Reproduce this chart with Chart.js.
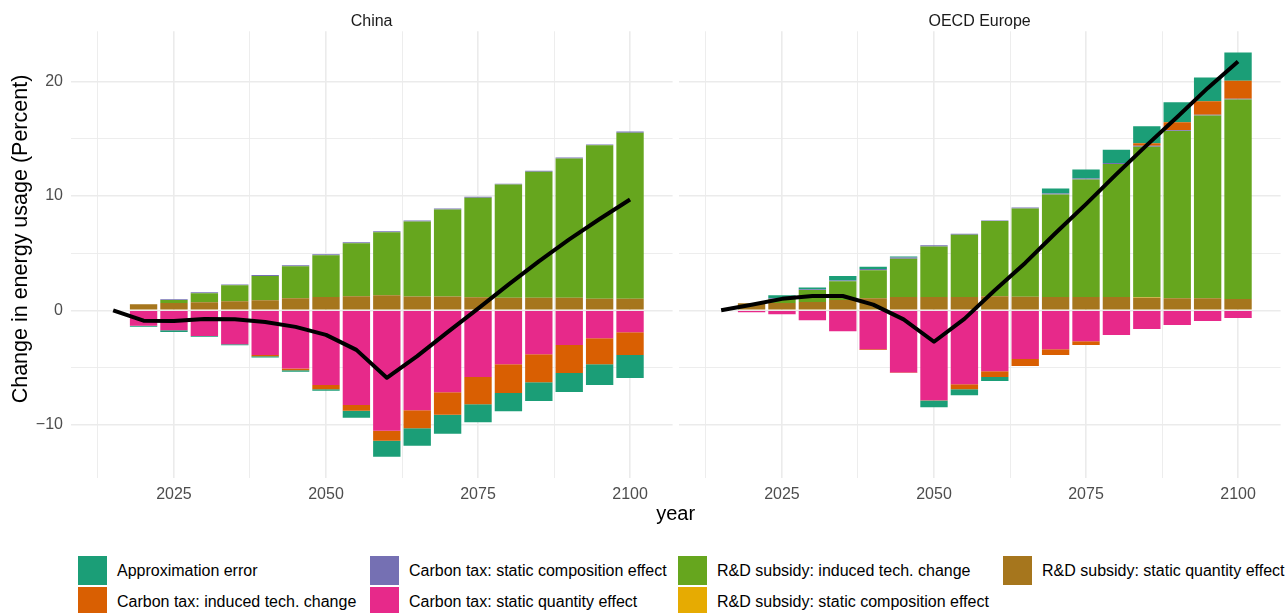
<!DOCTYPE html>
<html>
<head>
<meta charset="utf-8">
<script src="https://cdn.jsdelivr.net/npm/chart.js@4.4.1/dist/chart.umd.min.js"></script>
<style>
  html, body { margin: 0; padding: 0; background: #ffffff; }
  #wrap { position: relative; width: 1288px; height: 613px; overflow: hidden; background: #fff;
          font-family: "Liberation Sans", Arial, Helvetica, sans-serif; }
  #wrap canvas { position: absolute; top: 0; }
  .strip { position: absolute; top: 10.5px; font-size: 16px; line-height: 20px; color: #1a1a1a;
           transform: translateX(-50%); white-space: nowrap; }
  .xtitle { position: absolute; top: 500.5px; font-size: 20px; line-height: 24px; color: #000;
            transform: translateX(-50%); white-space: nowrap; }
  .ytitle { position: absolute; width: 440px; text-align: center; font-size: 21.5px; line-height: 26px;
            color: #000; white-space: nowrap; transform: translate(-50%, -50%) rotate(-90deg); }
  .leg { position: absolute; display: flex; align-items: center; height: 29px; white-space: nowrap;
         font-size: 16px; color: #000; }
  .leg .key { width: 29px; height: 29px; margin-right: 10px; flex: none; }
</style>
</head>
<body>
<div id="wrap">
  <canvas id="cChina" width="676" height="530" style="left:0px;width:676px;height:530px;"></canvas>
  <canvas id="cOecd" width="612" height="530" style="left:676px;width:612px;height:530px;"></canvas>
  <div class="strip" id="s0" style="left:371.6px;"></div>
  <div class="strip" id="s1" style="left:979.6px;"></div>
  <div class="xtitle" id="xt" style="left:675.6px;"></div>
  <div class="ytitle" id="yt" style="left:19.8px;top:238.5px;"></div>
  <div id="legend"></div>
</div>
<script>
// ---------------- data ----------------
const years = [2015, 2020, 2025, 2030, 2035, 2040, 2045, 2050, 2055, 2060, 2065, 2070, 2075, 2080, 2085, 2090, 2095, 2100];
const xGridTicks = [2012.5, 2025, 2037.5, 2050, 2062.5, 2075, 2087.5, 2100];
const xTickLabels = [2025, 2050, 2075, 2100];
const yGridTicks = [-10, -5, 0, 5, 10, 15, 20];
const yTickLabels = [-10, 0, 10, 20];
const facetNames = ['China', 'OECD Europe'];
const xAxisTitle = 'year';
const yAxisTitle = 'Change in energy usage (Percent)';

const seriesNames = [
  'Approximation error',
  'Carbon tax: induced tech. change',
  'Carbon tax: static composition effect',
  'Carbon tax: static quantity effect',
  'R&D subsidy: induced tech. change',
  'R&D subsidy: static composition effect',
  'R&D subsidy: static quantity effect'
];
const seriesColors = ['#1B9E77', '#D95F02', '#7570B3', '#E7298A', '#66A61E', '#E6AB02', '#A6761D'];

// China
const chinaApproxError   = [0, -0.08, -0.15, -0.08, -0.08, -0.10, -0.14, -0.14, -0.61, -1.40, -1.55, -1.66, -1.57, -1.60, -1.63, -1.66, -1.80, -2.01];
const chinaCtInduced     = [0, 0, 0, 0, 0, -0.12, -0.15, -0.38, -0.52, -0.87, -1.57, -1.98, -2.38, -2.50, -2.45, -2.45, -2.27, -1.98];
const chinaCtComposition = [0, 0, 0.08, 0.08, 0.08, 0.08, 0.08, 0.08, 0.08, 0.08, 0.08, 0.08, 0.08, 0.08, 0.08, 0.10, 0.08, 0.10];
const chinaCtQuantity    = [0, -1.35, -1.75, -2.24, -2.97, -3.90, -5.09, -6.52, -8.27, -10.54, -8.73, -7.16, -5.83, -4.72, -3.84, -3.03, -2.45, -1.92];
const chinaRdInduced     = [0, 0, 0.25, 0.79, 1.38, 2.13, 2.80, 3.65, 4.64, 5.50, 6.56, 7.61, 8.71, 9.89, 11.02, 12.16, 13.40, 14.50];
const chinaRdComposition = [0, 0, 0, 0, 0, 0, 0, 0, 0, 0, 0, 0, 0, 0, 0, 0, 0, 0];
const chinaRdQuantity    = [0.06, 0.52, 0.64, 0.70, 0.80, 0.87, 1.05, 1.16, 1.22, 1.32, 1.20, 1.20, 1.14, 1.10, 1.10, 1.10, 1.02, 1.02];
const chinaNet           = [0, -0.91, -0.94, -0.76, -0.79, -1.02, -1.45, -2.15, -3.46, -5.90, -4.01, -1.91, 0.15, 2.25, 4.28, 6.20, 7.98, 9.69];

// OECD Europe
const oecdApproxError    = [0, 0, 0.25, 0.15, 0.38, 0.20, 0.09, -0.58, -0.52, -0.35, 0, 0.44, 0.79, 1.16, 1.48, 1.75, 2.07, 2.47];
const oecdCtInduced      = [0, 0, 0, 0, 0, -0.05, -0.05, -0.03, -0.44, -0.49, -0.61, -0.49, -0.32, 0, 0.23, 0.70, 1.19, 1.57];
const oecdCtComposition  = [0, 0, 0.07, 0.08, 0.08, 0.10, 0.10, 0.10, 0.10, 0.06, 0.08, 0.08, 0.08, 0.08, 0.08, 0.06, 0.06, 0.06];
const oecdCtQuantity     = [0, -0.17, -0.35, -0.87, -1.83, -3.41, -5.44, -7.86, -6.46, -5.33, -4.25, -3.41, -2.71, -2.15, -1.63, -1.28, -0.93, -0.67];
const oecdRdInduced      = [0, 0, 0.35, 1.05, 1.63, 2.45, 3.35, 4.42, 5.44, 6.58, 7.73, 8.97, 10.28, 11.64, 13.16, 14.62, 15.98, 17.44];
const oecdRdComposition  = [0, 0, 0, 0, 0, 0, 0, 0, 0, 0, 0, 0, 0, 0, 0.04, 0, 0, 0];
const oecdRdQuantity     = [0.06, 0.61, 0.64, 0.72, 0.90, 1.05, 1.16, 1.16, 1.16, 1.22, 1.18, 1.16, 1.16, 1.16, 1.10, 1.05, 1.05, 0.99];
const oecdNet            = [0, 0.48, 1.00, 1.25, 1.25, 0.50, -0.79, -2.75, -0.75, 1.75, 4.14, 6.76, 9.28, 11.91, 14.44, 16.89, 19.42, 21.75];

// ---------------- chart ----------------
const FONT = '"Liberation Sans", Arial, Helvetica, sans-serif';
const fmtNum = v => (v < 0 ? '\u2212' + Math.abs(v) : String(v));

function pts(arr) { return years.map((y, i) => ({ x: y, y: arr[i] })); }

function makeChart(canvasId, series, net, isLeft) {
  // stacking order: closest to zero first (ggplot stacks reverse of legend order)
  const order = [6, 5, 4, 3, 2, 1, 0];
  const datasets = order.map(k => ({
    type: 'bar',
    label: seriesNames[k],
    data: pts(series[k]),
    backgroundColor: seriesColors[k],
    borderWidth: 0,
    stack: 'bars',
    barPercentage: 0.9,
    categoryPercentage: 1.0
  }));
  datasets.push({
    type: 'line',
    label: 'net',
    data: pts(net),
    borderColor: '#000000',
    borderWidth: 4,
    pointRadius: 0,
    tension: 0,
    fill: false,
    stack: 'net',
    order: -1,
    borderJoinStyle: 'round',
    borderCapStyle: 'butt'
  });
  return new Chart(document.getElementById(canvasId), {
    type: 'bar',
    data: { datasets },
    options: {
      responsive: false,
      animation: false,
      devicePixelRatio: 1,
      events: [],
      layout: { padding: isLeft ? { left: 0, right: 3.4, top: 31.3, bottom: 0 }
                                : { left: 2.6, right: 7.4, top: 31.3, bottom: 0 } },
      plugins: { legend: { display: false }, tooltip: { enabled: false }, title: { display: false } },
      scales: {
        x: {
          type: 'linear', min: 2008, max: 2107, stacked: true, offset: false,
          afterBuildTicks: a => { a.ticks = xGridTicks.map(v => ({ value: v })); },
          afterFit: s => { s.height = 52; },
          ticks: {
            autoSkip: false, maxRotation: 0, padding: 7.2, color: '#4D4D4D',
            font: { family: FONT, size: 16 },
            callback: v => (xTickLabels.includes(v) ? String(v) : '')
          },
          grid: {
            offset: false, drawTicks: false, color: '#EBEBEB',
            lineWidth: c => (c.tick && xTickLabels.includes(c.tick.value) ? 1.6 : 0.9)
          },
          border: { display: false }
        },
        y: {
          type: 'linear', min: -14.66, max: 24.39, stacked: true,
          afterBuildTicks: a => { a.ticks = yGridTicks.map(v => ({ value: v })); },
          afterFit: s => { s.width = isLeft ? 70.6 : 0; },
          ticks: {
            display: isLeft, padding: 7.6, color: '#4D4D4D',
            font: { family: FONT, size: 16 },
            callback: v => (yTickLabels.includes(v) ? fmtNum(v) : '')
          },
          grid: {
            drawTicks: false, color: '#EBEBEB',
            lineWidth: c => (c.tick && yTickLabels.includes(c.tick.value) ? 1.6 : 0.9)
          },
          border: { display: false }
        }
      }
    }
  });
}

makeChart('cChina',
  [chinaApproxError, chinaCtInduced, chinaCtComposition, chinaCtQuantity, chinaRdInduced, chinaRdComposition, chinaRdQuantity],
  chinaNet, true);
makeChart('cOecd',
  [oecdApproxError, oecdCtInduced, oecdCtComposition, oecdCtQuantity, oecdRdInduced, oecdRdComposition, oecdRdQuantity],
  oecdNet, false);

// ---------------- text ----------------
document.getElementById('s0').textContent = facetNames[0];
document.getElementById('s1').textContent = facetNames[1];
document.getElementById('xt').textContent = xAxisTitle;
document.getElementById('yt').textContent = yAxisTitle;

// legend: 4 columns x 2 rows, filled column-wise
const legCols = [78, 370, 678, 1003];
const legRows = [556, 587];
const legend = document.getElementById('legend');
seriesNames.forEach((name, i) => {
  const col = Math.floor(i / 2), row = i % 2;
  const item = document.createElement('div');
  item.className = 'leg';
  item.style.left = legCols[col] + 'px';
  item.style.top = legRows[row] + 'px';
  const key = document.createElement('span');
  key.className = 'key';
  key.style.background = seriesColors[i];
  const txt = document.createElement('span');
  txt.textContent = name;
  item.appendChild(key);
  item.appendChild(txt);
  legend.appendChild(item);
});
</script>
</body>
</html>
